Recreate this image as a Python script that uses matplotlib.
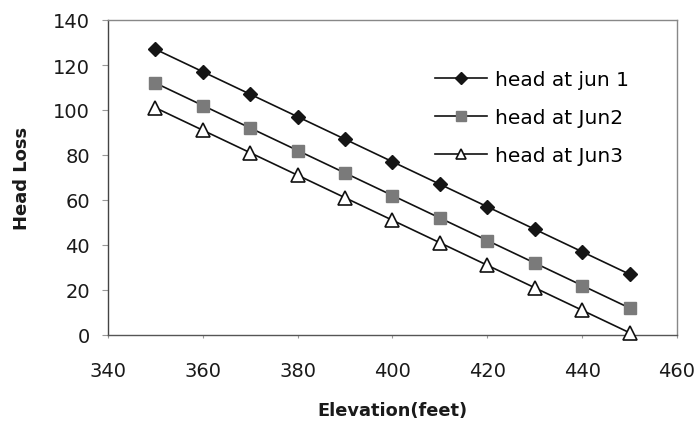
import matplotlib
matplotlib.use("Agg")
import matplotlib.pyplot as plt

plt.rcParams['font.family'] = ['DejaVu Sans']

elevation = [350, 360, 370, 380, 390, 400, 410, 420, 430, 440, 450]
head_jun1 = [127, 117, 107, 97, 87, 77, 67, 57, 47, 37, 27]
head_jun2 = [112, 102, 92, 82, 72, 62, 52, 42, 32, 22, 12]
head_jun3 = [101, 91, 81, 71, 61, 51, 41, 31, 21, 11, 1]

fig = plt.figure(figsize=(7, 4.27), dpi=100)
ax = fig.add_axes([108/700, 1-336/427, (677-108)/700, (336-21)/427])

ax.plot(elevation, head_jun1, color='#111111', lw=1.2, marker='D', ms=7.5,
        mfc='#151515', mec='#151515', label='head at jun 1')
ax.plot(elevation, head_jun2, color='#111111', lw=1.2, marker='s', ms=9,
        mfc='#7a7a7a', mec='#7a7a7a', label='head at Jun2', zorder=3)
ax.plot(elevation, head_jun3, color='#111111', lw=1.2, marker='^', ms=9.5,
        mfc='white', mec='#111111', mew=1.2, label='head at Jun3', zorder=4,
        clip_on=False)

ax.set_xlim(340, 460)
ax.set_ylim(0, 140)
ax.set_xticks(range(340, 461, 20))
ax.set_yticks(range(0, 141, 20))
ax.tick_params(axis='both', labelsize=14, color='#999999', direction='out',
               labelcolor='#1a1a1a')
ax.tick_params(axis='y', length=4, pad=9)
ax.tick_params(axis='x', length=2, pad=17)
ax.spines['left'].set_color('#444444')
ax.spines['bottom'].set_color('#555555')
ax.spines['top'].set_color('#888888')
ax.spines['right'].set_color('#888888')
for s in ax.spines.values():
    s.set_linewidth(1.0)

ax.set_xlabel('Elevation(feet)', fontsize=12.8, fontweight='bold', labelpad=15,
              color='#1a1a1a')
ax.set_ylabel('Head Loss', fontsize=13, fontweight='bold', labelpad=16,
              color='#1a1a1a')

ax.legend(loc='upper left', bbox_to_anchor=(435/700, 1-71/427),
          bbox_transform=fig.transFigure, frameon=False, borderpad=0,
          borderaxespad=0, fontsize=14.5, handlelength=2.6,
          labelspacing=0.95, handletextpad=0.4, markerscale=0.8)

fig.savefig('out.png', dpi=100)
